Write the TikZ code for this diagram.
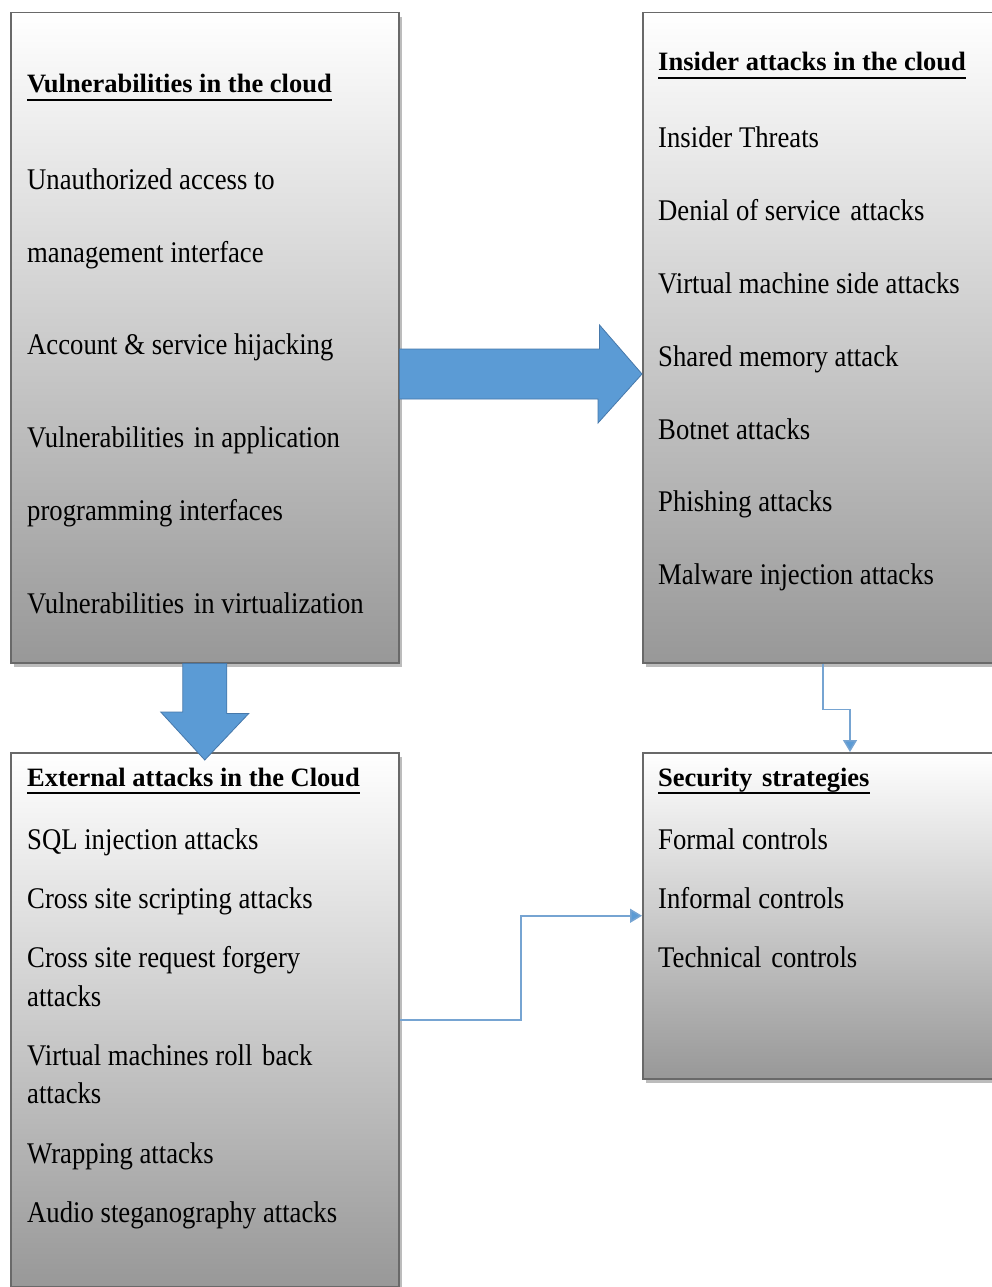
\documentclass[tikz,border=0pt]{standalone}
\usepackage{fontspec}
\setmainfont{Liberation Serif}
\newfontfamily\itemfont[FakeStretch=0.89]{Liberation Serif}
\usetikzlibrary{calc,arrows.meta,shadows}

\definecolor{boxedge}{RGB}{105,105,105}
\definecolor{boxshade}{RGB}{152,152,152}
\definecolor{shadowgray}{RGB}{188,188,188}
\definecolor{arrowfill}{RGB}{91,155,213}
\definecolor{arrowedge}{RGB}{70,120,170}
\definecolor{linkblue}{RGB}{118,164,210}

% slightly widened word gap
\newcommand{\wgap}{\ \kern3pt}

\tikzset{
  panel/.style={rectangle, inner sep=0pt, anchor=north west,
    top color=white, bottom color=boxshade,
    draw=boxedge, line width=1.5pt,
    drop shadow={shadow xshift=3pt, shadow yshift=-4pt, fill=shadowgray, opacity=1}},
  head/.style={anchor=base west, inner sep=0pt,
    font=\fontsize{26.5}{30}\selectfont\bfseries},
  entry/.style={anchor=base west, inner sep=0pt,
    font=\itemfont\fontsize{30}{36}\selectfont},
  rule/.style={line width=2.2pt},
  blockarrow/.style={fill=arrowfill, draw=arrowedge, line width=0.8pt, line join=miter},
  link/.style={draw=linkblue, line width=1.5pt,
    -{Triangle[width=14pt,length=12pt,fill=arrowfill]}}
}

\begin{document}
\begin{tikzpicture}[x=1pt,y=-1pt]
\useasboundingbox (0,0) rectangle (992,1287);
\clip (0,0) rectangle (992,1287);
\fill[white] (0,0) rectangle (992,1287);

% the four panels
\node[panel, minimum width=388pt, minimum height=650pt] (b1) at (10,12) {};
\node[panel, minimum width=360pt, minimum height=650pt] (b2) at (642,12) {};
\node[panel, minimum width=388pt, minimum height=534pt] (b3) at (10,752) {};
\node[panel, minimum width=360pt, minimum height=326pt] (b4) at (642,752) {};

% block arrow: vulnerabilities -> insider attacks
\coordinate (ra) at ($(b1.north east)+(0,362)$);
\filldraw[blockarrow] (ra) ++(0,-25) -- ++(200,0) -- ++(0,-24)
  -- (b2.west |- ra) -- ++(-44,49) -- ++(0,-24) -- ($(ra)+(0,25)$) -- cycle;

% block arrow: vulnerabilities -> external attacks
\coordinate (da) at (b1.south);
\filldraw[blockarrow] (da) ++(-22,0) -- ++(44,0) -- ++(0,50) -- ++(22,0)
  -- ($(b3.north)+(0,8)$) -- ++(-44,-48) -- ++(22,0) -- cycle;

% thin connectors
\coordinate (c1) at ($(b2.south west)+(181,0)$);
\coordinate (c2) at ($(b4.north west)+(208,0)$);
\draw[link] (c1) -- ++(0,46) -| (c2);
\draw[link] (b3.east) -| ($(b3.east)!0.5!(b4.west)$) |- (b4.west);

% headings
\node[head] (h1) at (27,93) {Vulnerabilities in the cloud};
\node[head] (h2) at (658,71) {Insider attacks in the cloud};
\node[head] (h3) at (27,786) {External attacks in the Cloud};
\node[head] (h4) at (658,786) {Security\wgap strategies};
\foreach \h in {h1,h2,h3,h4}
  \draw[rule] ([yshift=-7pt]\h.base west) -- ([yshift=-7pt]\h.base east);

% entries
\foreach \txt/\yy [count=\i] in {
  {Unauthorized access to}/189,
  {management interface}/262,
  {Account \& service hijacking}/354,
  {Vulnerabilities\wgap in application}/447,
  {programming interfaces}/520,
  {Vulnerabilities\wgap in virtualization}/613}
  \node[entry] (v\i) at (27,\yy) {\txt};

\foreach \txt/\yy [count=\i] in {
  {Insider Threats}/147,
  {Denial of service\wgap attacks}/220,
  {Virtual machine side attacks}/293,
  {Shared memory attack}/366,
  {Botnet attacks}/439,
  {Phishing attacks}/511,
  {Malware injection attacks}/584}
  \node[entry] (n\i) at (658,\yy) {\txt};

\foreach \txt/\yy [count=\i] in {
  {SQL injection attacks}/849,
  {Cross site scripting attacks}/908,
  {Cross site request forgery}/967,
  {attacks}/1006,
  {Virtual machines roll\wgap back}/1065,
  {attacks}/1103,
  {Wrapping attacks}/1163,
  {Audio steganography attacks}/1222}
  \node[entry] (e\i) at (27,\yy) {\txt};

\foreach \txt/\yy [count=\i] in {
  {Formal controls}/849,
  {Informal controls}/908,
  {Technical\wgap controls}/967}
  \node[entry] (s\i) at (658,\yy) {\txt};
\end{tikzpicture}
\end{document}
